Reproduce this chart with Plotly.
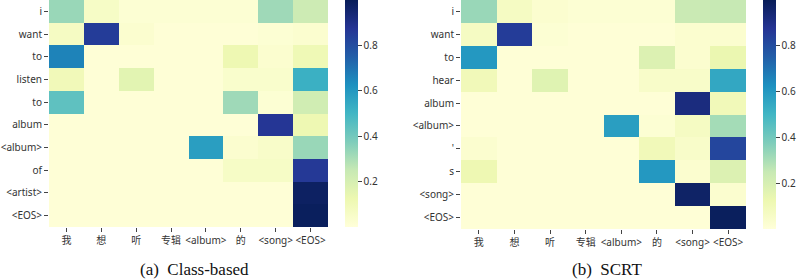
import plotly.graph_objects as go

src_tokens = ["我", "想", "听", "专辑", "<album>", "的", "<song>", "<EOS>"]

rows_a = ["i", "want", "to", "listen", "to", "album", "<album>", "of", "<artist>", "<EOS>"]
vals_a = [
    [0.33, 0.06, 0.02, 0.02, 0.02, 0.02, 0.32, 0.23],
    [0.07, 0.85, 0.03, 0.01, 0.01, 0.01, 0.02, 0.03],
    [0.66, 0.01, 0.01, 0.01, 0.01, 0.12, 0.03, 0.11],
    [0.10, 0.01, 0.16, 0.01, 0.01, 0.04, 0.04, 0.52],
    [0.44, 0.01, 0.01, 0.01, 0.01, 0.32, 0.02, 0.22],
    [0.01, 0.01, 0.01, 0.01, 0.01, 0.01, 0.87, 0.12],
    [0.01, 0.01, 0.01, 0.01, 0.58, 0.03, 0.05, 0.33],
    [0.01, 0.01, 0.01, 0.01, 0.01, 0.06, 0.06, 0.86],
    [0.01, 0.01, 0.01, 0.01, 0.01, 0.01, 0.01, 0.98],
    [0.01, 0.01, 0.01, 0.01, 0.01, 0.01, 0.01, 0.99],
]

rows_b = ["i", "want", "to", "hear", "album", "<album>", "'", "s", "<song>", "<EOS>"]
vals_b = [
    [0.33, 0.07, 0.03, 0.02, 0.02, 0.02, 0.24, 0.25],
    [0.07, 0.85, 0.02, 0.01, 0.01, 0.01, 0.03, 0.03],
    [0.60, 0.01, 0.01, 0.01, 0.01, 0.18, 0.03, 0.13],
    [0.10, 0.01, 0.17, 0.01, 0.01, 0.05, 0.05, 0.55],
    [0.01, 0.01, 0.01, 0.01, 0.01, 0.01, 0.92, 0.10],
    [0.01, 0.01, 0.01, 0.01, 0.58, 0.02, 0.07, 0.31],
    [0.03, 0.01, 0.01, 0.01, 0.01, 0.10, 0.05, 0.82],
    [0.12, 0.01, 0.01, 0.01, 0.01, 0.60, 0.03, 0.18],
    [0.01, 0.01, 0.01, 0.01, 0.01, 0.01, 0.97, 0.03],
    [0.01, 0.01, 0.01, 0.01, 0.01, 0.01, 0.01, 0.99],
]

captions = ["(a)\u00a0 Class-based", "(b)\u00a0 SCRT"]
cbar_ticks = [0.2, 0.4, 0.6, 0.8]

ylgnbu = [
    [0.0, "#ffffd9"], [0.125, "#edf8b1"], [0.25, "#c7e9b4"], [0.375, "#7fcdbb"],
    [0.5, "#41b6c4"], [0.625, "#1d91c0"], [0.75, "#225ea8"], [0.875, "#253494"],
    [1.0, "#081d58"],
]

W, H = 805, 280
lab_font = dict(family="Noto Sans, Noto Sans CJK SC, sans-serif", size=10, color="#333333")

fig = go.Figure()

panels = [
    (vals_a, rows_a, (49, 328), 227, 345, "x", "y"),
    (vals_b, rows_b, (461, 746), 229, 763, "x2", "y2"),
]

for i, (vals, rows, (x0, x1), ybot, cbx, xa, ya) in enumerate(panels):
    fig.add_trace(go.Heatmap(
        z=vals,
        x=list(range(len(src_tokens))),
        y=list(range(len(rows))),
        colorscale=ylgnbu, zmin=0.0, zmax=1.0,
        xaxis=xa, yaxis=ya,
        colorbar=dict(
            x=cbx / W, xanchor="left", xref="paper",
            y=1.0, yanchor="top", yref="paper",
            len=ybot, lenmode="pixels",
            thickness=13, thicknessmode="pixels",
            xpad=0, ypad=0, outlinewidth=0,
            tickvals=cbar_ticks, ticktext=[str(t) for t in cbar_ticks],
            ticks="outside", ticklen=4, tickcolor="#444444", tickwidth=1,
            tickfont=lab_font,
        ),
    ))
    sfx = "" if i == 0 else "2"
    fig.update_layout(**{
        "xaxis" + sfx: dict(
            domain=[x0 / W, x1 / W], anchor=ya,
            range=[-0.5, len(src_tokens) - 0.5],
            tickvals=list(range(len(src_tokens))), ticktext=src_tokens,
            ticks="outside", ticklen=4, tickcolor="#444444", tickwidth=1,
            tickfont=lab_font, showgrid=False, zeroline=False, showline=False,
            tickangle=0,
        ),
        "yaxis" + sfx: dict(
            domain=[1 - ybot / H, 1.0], anchor=xa,
            range=[len(rows) - 0.5, -0.5],
            tickvals=list(range(len(rows))), ticktext=rows,
            ticks="outside", ticklen=4, tickcolor="#444444", tickwidth=1,
            tickfont=lab_font, showgrid=False, zeroline=False, showline=False,
        ),
    })

cap_x = [194, 607]
for cx, txt in zip(cap_x, captions):
    fig.add_annotation(
        text=txt, x=cx / W, y=1 - 269 / H, xref="paper", yref="paper",
        xanchor="center", yanchor="middle", showarrow=False,
        font=dict(family="Liberation Serif, Times New Roman, serif", size=17, color="#111111"),
    )

fig.update_layout(
    width=W, height=H, margin=dict(l=0, r=0, t=0, b=0),
    paper_bgcolor="white", plot_bgcolor="white",
)

fig.write_html("out.html")
